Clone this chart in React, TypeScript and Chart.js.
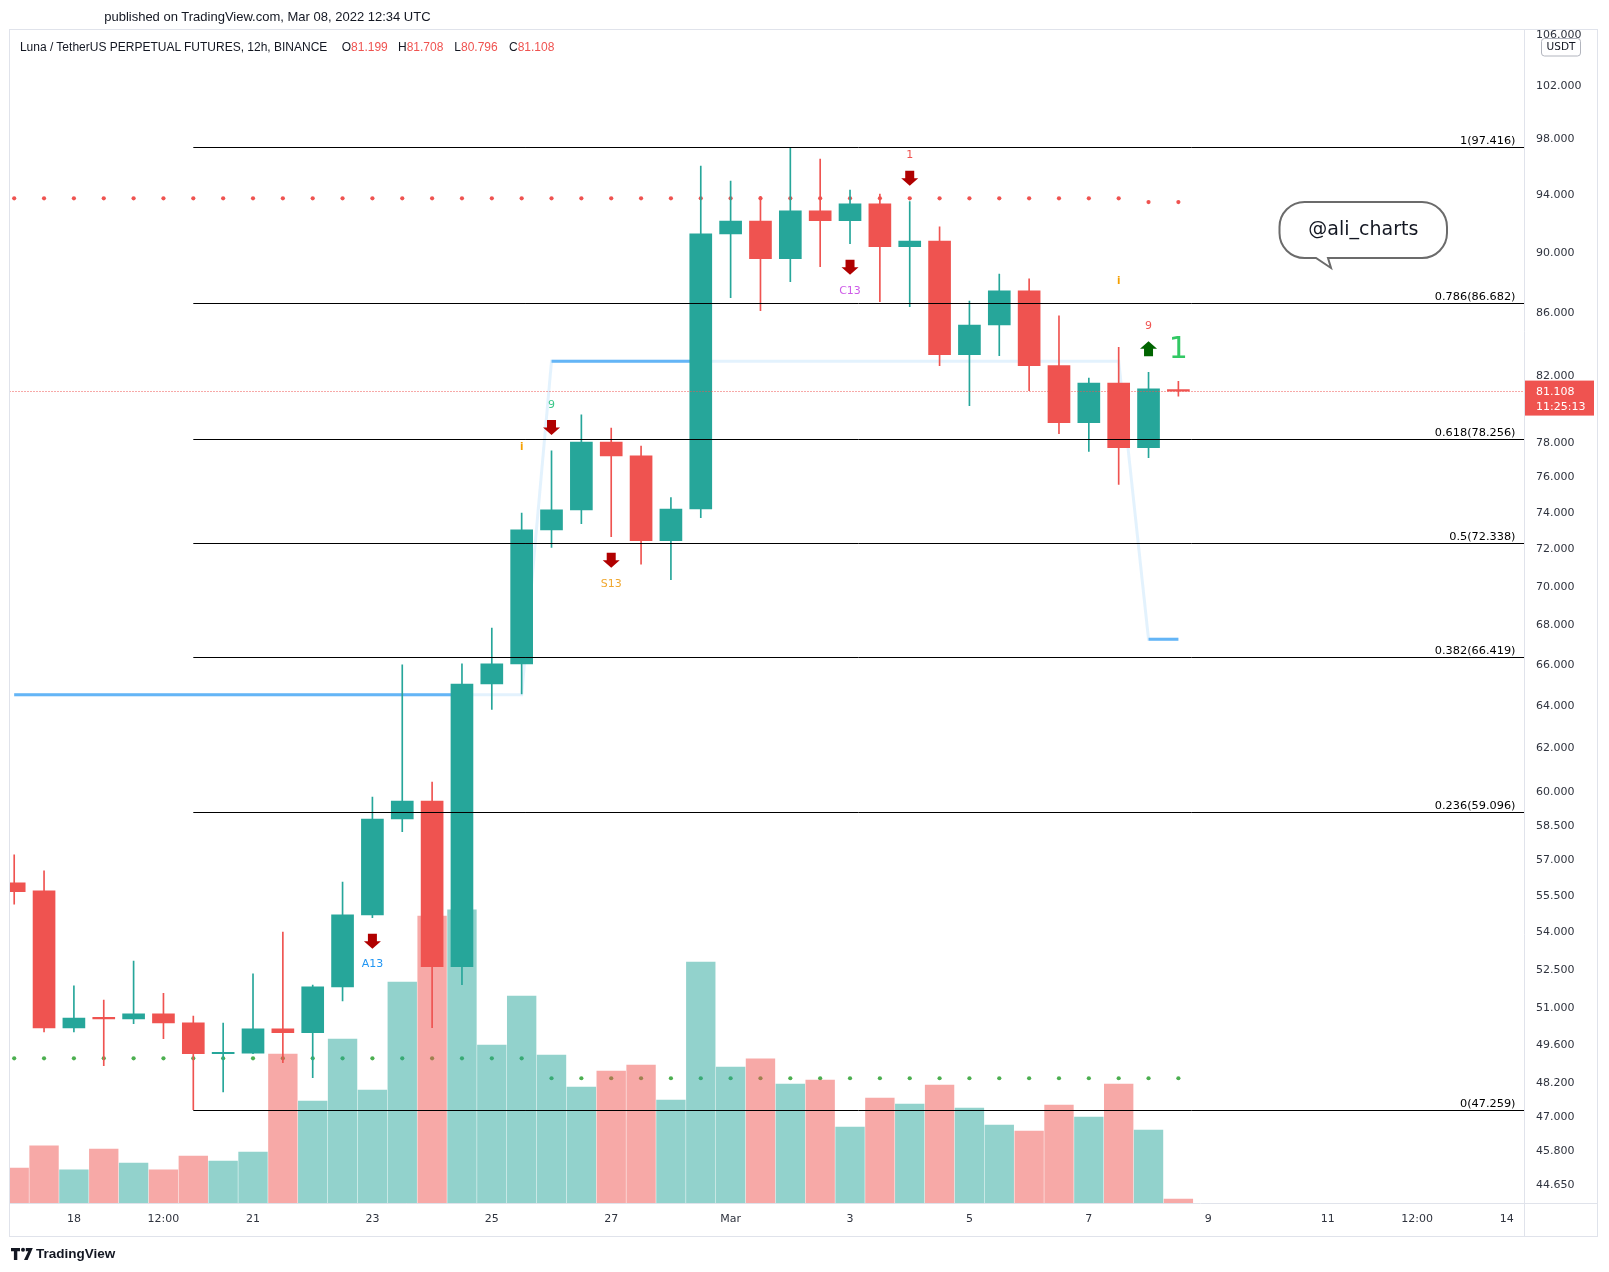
import React, { useEffect, useRef } from "react";
import { Chart, registerables } from "chart.js";

Chart.register(...registerables);

// ---------- data ----------
const categories = [
  "Feb 17 00:00", "Feb 17 12:00", "Feb 18 00:00", "Feb 18 12:00", "Feb 19 00:00", "Feb 19 12:00",
  "Feb 20 00:00", "Feb 20 12:00", "Feb 21 00:00", "Feb 21 12:00", "Feb 22 00:00", "Feb 22 12:00",
  "Feb 23 00:00", "Feb 23 12:00", "Feb 24 00:00", "Feb 24 12:00", "Feb 25 00:00", "Feb 25 12:00",
  "Feb 26 00:00", "Feb 26 12:00", "Feb 27 00:00", "Feb 27 12:00", "Feb 28 00:00", "Feb 28 12:00",
  "Mar 1 00:00", "Mar 1 12:00", "Mar 2 00:00", "Mar 2 12:00", "Mar 3 00:00", "Mar 3 12:00",
  "Mar 4 00:00", "Mar 4 12:00", "Mar 5 00:00", "Mar 5 12:00", "Mar 6 00:00", "Mar 6 12:00",
  "Mar 7 00:00", "Mar 7 12:00", "Mar 8 00:00", "Mar 8 12:00",
];

const openP = [
  56.05, 55.71, 50.26, 50.63, 50.6, 50.79, 50.45, 49.29, 49.31, 50.22,
  50.08, 51.83, 54.71, 58.8, 59.6, 52.62, 65.08, 66.07, 73.07, 74.18,
  78.06, 77.25, 72.48, 74.23, 91.28, 92.17, 89.6, 92.87, 92.19, 93.36,
  90.41, 90.79, 83.36, 85.24, 87.45, 82.67, 79.21, 81.6, 77.73, 81.199,
];
const highP = [
  57.24, 56.55, 51.87, 51.32, 52.85, 51.58, 50.71, 50.44, 52.34, 54.01,
  51.9, 56.08, 59.78, 66.02, 60.46, 66.08, 67.88, 74.0, 77.54, 79.68,
  78.89, 77.83, 74.87, 96.06, 94.98, 93.9, 97.416, 96.56, 94.34, 94.06,
  93.52, 91.76, 86.79, 88.57, 88.24, 85.82, 81.91, 83.82, 82.26, 81.708,
];
const lowP = [
  55.16, 50.11, 50.11, 48.85, 50.42, 49.85, 47.259, 47.9, 49.29, 48.96,
  48.41, 51.29, 54.6, 58.24, 50.27, 51.92, 63.85, 64.6, 72.11, 73.42,
  72.7, 71.21, 70.39, 73.75, 87.01, 86.16, 88.06, 89.06, 90.61, 86.75,
  86.42, 82.67, 80.23, 83.3, 81.14, 78.55, 77.51, 75.62, 77.15, 80.796,
];
const closeP = [
  55.68, 50.26, 50.63, 50.6, 50.79, 50.45, 49.29, 49.32, 50.22, 50.08,
  51.83, 54.71, 58.8, 59.6, 52.62, 65.08, 66.07, 73.07, 74.18, 78.06,
  77.25, 72.48, 74.23, 91.28, 92.17, 89.6, 92.87, 92.19, 93.36, 90.41,
  90.79, 83.36, 85.24, 87.45, 82.67, 79.21, 81.6, 77.73, 81.24, 81.108,
];
const volume = [
  3.44, 5.59, 3.25, 5.29, 3.93, 3.25, 4.61, 4.12, 5.0, 14.55,
  9.97, 16.01, 11.04, 21.57, 28.0, 28.59, 15.43, 20.2, 14.45, 11.33,
  12.89, 13.48, 10.07, 23.52, 13.28, 14.07, 11.63, 12.02, 7.44, 10.26,
  9.68, 11.53, 9.29, 7.63, 7.05, 9.58, 8.41, 11.63, 7.14, 0.42,
];

// red dotted resistance level and green dotted support level
const resistanceDots = [
  93.75, 93.75, 93.75, 93.75, 93.75, 93.75, 93.75, 93.75, 93.75, 93.75,
  93.75, 93.75, 93.75, 93.75, 93.75, 93.75, 93.75, 93.75, 93.75, 93.75,
  93.75, 93.75, 93.75, 93.75, 93.75, 93.75, 93.75, 93.75, 93.75, 93.75,
  93.75, 93.75, 93.75, 93.75, 93.75, 93.75, 93.75, 93.75, 93.49, 93.49,
];
const supportDots = [
  49.12, 49.12, 49.12, 49.12, 49.12, 49.12, 49.12, 49.12, 49.12, 49.12,
  49.12, 49.12, 49.12, 49.12, 49.12, 49.12, 49.12, 49.12, 48.39, 48.39,
  48.39, 48.39, 48.39, 48.39, 48.39, 48.39, 48.39, 48.39, 48.39, 48.39,
  48.39, 48.39, 48.39, 48.39, 48.39, 48.39, 48.39, 48.39, 48.39, 48.39,
];
// blue stop line and whether it is in its strong state
const stopLine = [
  64.56, 64.56, 64.56, 64.56, 64.56, 64.56, 64.56, 64.56, 64.56, 64.56,
  64.56, 64.56, 64.56, 64.56, 64.56, 64.56, 64.56, 64.56, 82.95, 82.95,
  82.95, 82.95, 82.95, 82.95, 82.95, 82.95, 82.95, 82.95, 82.95, 82.95,
  82.95, 82.95, 82.95, 82.95, 82.95, 82.95, 82.95, 82.95, 67.31, 67.31,
];
const stopActive = [
  1, 1, 1, 1, 1, 1, 1, 1, 1, 1, 1, 1, 1, 1, 1, 1, 0, 0, 1, 1,
  1, 1, 1, 1, 0, 0, 0, 0, 0, 0, 0, 0, 0, 0, 0, 0, 0, 0, 1, 1,
];

const fibLevels = ["1", "0.786", "0.618", "0.5", "0.382", "0.236", "0"];
const fibPrices = [97.416, 86.682, 78.256, 72.338, 66.419, 59.096, 47.259];
const fibStartIndex = 6;

const priceTicks = [
  44.65, 45.8, 47, 48.2, 49.6, 51, 52.5, 54, 55.5, 57, 58.5, 60, 62, 64, 66,
  68, 70, 72, 74, 76, 78, 82, 86, 90, 94, 98, 102, 106,
];
const timeTickIndex = [2, 5, 8, 12, 16, 20, 24, 28, 32, 36, 40, 44, 47, 50];
const timeTickLabels = ["18", "12:00", "21", "23", "25", "27", "Mar", "3", "5", "7", "9", "11", "12:00", "14"];

const signalIndex = [12, 18, 20, 28, 30, 38];
const signalSide = ["below", "above", "below", "below", "above", "above"];
const signalDir = ["down", "down", "down", "down", "down", "up"];
const signalText = ["A13", "9", "S13", "C13", "1", "9"];
const signalColor = ["#2196F3", "#3CC88A", "#F0A830", "#CE5BE8", "#EF5350", "#EF5350"];
const infoIndex = [17, 37];

// ---------- style constants ----------
const UP = "#26A69A";
const DOWN = "#EF5350";
const UP_VOL = "rgba(38,166,154,0.5)";
const DOWN_VOL = "rgba(239,83,80,0.5)";
const TXT = "#2f333e";
const FONT = "DejaVu Sans";

function drawArrow(ctx: CanvasRenderingContext2D, cx: number, top: number, dir: string, color: string) {
  ctx.fillStyle = color;
  ctx.beginPath();
  if (dir === "down") {
    ctx.moveTo(cx - 4.5, top);
    ctx.lineTo(cx + 4.5, top);
    ctx.lineTo(cx + 4.5, top + 7.5);
    ctx.lineTo(cx + 8.5, top + 7.5);
    ctx.lineTo(cx, top + 15);
    ctx.lineTo(cx - 8.5, top + 7.5);
    ctx.lineTo(cx - 4.5, top + 7.5);
  } else {
    ctx.moveTo(cx, top);
    ctx.lineTo(cx + 8.5, top + 7.5);
    ctx.lineTo(cx + 4.5, top + 7.5);
    ctx.lineTo(cx + 4.5, top + 15);
    ctx.lineTo(cx - 4.5, top + 15);
    ctx.lineTo(cx - 4.5, top + 7.5);
    ctx.lineTo(cx - 8.5, top + 7.5);
  }
  ctx.closePath();
  ctx.fill();
}

const annotPlugin = {
  id: "annot",
  afterDatasetsDraw(chart: any) {
    const { ctx, chartArea: ca } = chart;
    const xs = chart.scales.x;
    const ys = chart.scales.y;
    const last = closeP.length - 1;
    ctx.save();

    // last price dotted line
    const yp = Math.round(ys.getPixelForValue(closeP[last])) + 0.5;
    ctx.strokeStyle = DOWN;
    ctx.lineWidth = 1;
    ctx.setLineDash([1, 2]);
    ctx.beginPath();
    ctx.moveTo(ca.left, yp);
    ctx.lineTo(ca.right, yp);
    ctx.stroke();
    ctx.setLineDash([]);

    // fibonacci levels
    const x0 = xs.getPixelForValue(fibStartIndex);
    ctx.font = `11.3px "${FONT}"`;
    ctx.textAlign = "right";
    ctx.textBaseline = "alphabetic";
    fibPrices.forEach((p, j) => {
      const y = Math.round(ys.getPixelForValue(p)) + 0.5;
      ctx.strokeStyle = "#000";
      ctx.beginPath();
      ctx.moveTo(x0, y);
      ctx.lineTo(ca.right, y);
      ctx.stroke();
      ctx.fillStyle = "#000";
      ctx.fillText(`${fibLevels[j]}(${p.toFixed(3)})`, ca.right - 8.5, y - 4);
    });

    // signals
    ctx.textAlign = "center";
    ctx.textBaseline = "middle";
    signalIndex.forEach((i, j) => {
      const cx = xs.getPixelForValue(i);
      const arrowColor = signalDir[j] === "up" ? "#006400" : "#B00000";
      ctx.font = `11px "${FONT}"`;
      if (signalSide[j] === "above") {
        const yh = ys.getPixelForValue(highP[i]);
        drawArrow(ctx, cx, yh - 31, signalDir[j], arrowColor);
        ctx.fillStyle = signalColor[j];
        ctx.fillText(signalText[j], cx, yh - 46);
      } else {
        const yl = ys.getPixelForValue(lowP[i]);
        drawArrow(ctx, cx, yl + 16, signalDir[j], arrowColor);
        ctx.fillStyle = signalColor[j];
        ctx.fillText(signalText[j], cx, yl + 47);
      }
    });

    // info markers
    ctx.font = `bold 10px "${FONT}"`;
    ctx.fillStyle = "#F5A000";
    infoIndex.forEach((i) => {
      const cx = xs.getPixelForValue(i);
      ctx.fillText("i", cx, ys.getPixelForValue(highP[i]) - 66);
    });

    // big green "1"
    ctx.font = `30px "${FONT}"`;
    ctx.fillStyle = "#32C864";
    ctx.fillText("1", xs.getPixelForValue(39), ys.getPixelForValue(highP[38]) - 22);

    // speech bubble
    const L = 1279.5, R = 1447, T = 202, B = 258, r = 25;
    ctx.beginPath();
    ctx.moveTo(1328, B);
    ctx.lineTo(R - r, B);
    ctx.arcTo(R, B, R, B - r, r);
    ctx.lineTo(R, T + r);
    ctx.arcTo(R, T, R - r, T, r);
    ctx.lineTo(L + r, T);
    ctx.arcTo(L, T, L, T + r, r);
    ctx.lineTo(L, B - r);
    ctx.arcTo(L, B, L + r, B, r);
    ctx.lineTo(1316, B);
    ctx.lineTo(1331, 268);
    ctx.closePath();
    ctx.fillStyle = "#fff";
    ctx.fill();
    ctx.strokeStyle = "#6b6b6b";
    ctx.lineWidth = 2;
    ctx.stroke();
    ctx.fillStyle = "#131722";
    ctx.font = `19px "${FONT}"`;
    ctx.fillText("@ali_charts", 1363.3, 230);

    ctx.restore();
  },
  afterDraw(chart: any) {
    const { ctx } = chart;
    const ys = chart.scales.y;
    const last = closeP.length - 1;
    ctx.save();
    // frame
    ctx.strokeStyle = "#E0E3EB";
    ctx.lineWidth = 1;
    ctx.strokeRect(9.5, 29.5, 1588, 1207);
    ctx.beginPath();
    ctx.moveTo(1524.5, 29.5);
    ctx.lineTo(1524.5, 1236.5);
    ctx.moveTo(9.5, 1203.5);
    ctx.lineTo(1597.5, 1203.5);
    ctx.stroke();

    // last price label
    const yp = ys.getPixelForValue(closeP[last]);
    ctx.fillStyle = DOWN;
    ctx.fillRect(1525, yp - 10.5, 69, 35);
    ctx.fillStyle = "#fff";
    ctx.font = `11px "${FONT}"`;
    ctx.textAlign = "left";
    ctx.textBaseline = "middle";
    ctx.fillText(closeP[last].toFixed(3), 1536, yp + 1);
    ctx.fillText("11:25:13", 1536, yp + 16.3);

    // currency badge
    ctx.beginPath();
    (ctx as any).roundRect(1541.5, 38.5, 39, 17.5, 3);
    ctx.fillStyle = "#fff";
    ctx.fill();
    ctx.strokeStyle = "#B2B5BE";
    ctx.stroke();
    ctx.fillStyle = "#131722";
    ctx.font = `10.5px "${FONT}"`;
    ctx.textAlign = "center";
    ctx.fillText("USDT", 1561, 47.5);
    ctx.restore();
  },
};

export default function App() {
  const ref = useRef<HTMLCanvasElement>(null);

  useEffect(() => {
    const canvas = ref.current;
    if (!canvas) return;
    const idx = categories.map((_, i) => i);
    const isUp = idx.map((i) => closeP[i] >= openP[i]);

    const chart = new Chart(canvas, {
      type: "bar",
      data: {
        datasets: [
          {
            type: "line",
            label: "Resistance",
            data: idx.map((i) => ({ x: i, y: resistanceDots[i] })),
            showLine: false,
            pointRadius: 2.1,
            pointBorderWidth: 0,
            pointBackgroundColor: "#EF5350",
            yAxisID: "y",
            order: 9,
          } as any,
          {
            type: "line",
            label: "Support",
            data: idx.map((i) => ({ x: i, y: supportDots[i] })),
            showLine: false,
            pointRadius: 2.1,
            pointBorderWidth: 0,
            pointBackgroundColor: "#4CAF50",
            yAxisID: "y",
            order: 9,
          } as any,
          {
            type: "bar",
            label: "Volume",
            data: idx.map((i) => ({ x: i, y: volume[i] })),
            backgroundColor: idx.map((i) => (isUp[i] ? UP_VOL : DOWN_VOL)),
            barThickness: 28.7,
            grouped: false,
            borderWidth: 0,
            yAxisID: "yv",
            order: 8,
          } as any,
          {
            type: "line",
            label: "Stop (faint)",
            data: idx.map((i) => ({ x: i, y: stopLine[i] })),
            borderColor: "rgba(100,181,246,0.18)",
            borderWidth: 3,
            pointRadius: 0,
            tension: 0,
            yAxisID: "y",
            order: 7,
          } as any,
          {
            type: "line",
            label: "Stop",
            data: idx.map((i) => ({ x: i, y: stopActive[i] ? stopLine[i] : null })),
            borderColor: "#64B5F6",
            borderWidth: 3,
            pointRadius: 0,
            tension: 0,
            spanGaps: false,
            yAxisID: "y",
            order: 6,
          } as any,
          {
            type: "bar",
            label: "Wick",
            data: idx.map((i) => ({ x: i, y: [lowP[i], highP[i]] })),
            backgroundColor: idx.map((i) => (isUp[i] ? UP : DOWN)),
            barThickness: 1,
            grouped: false,
            borderWidth: 0,
            yAxisID: "y",
            order: 5,
          } as any,
          {
            type: "bar",
            label: "Body",
            data: idx.map((i) => ({ x: i, y: [openP[i], closeP[i]] })),
            backgroundColor: idx.map((i) => (isUp[i] ? UP : DOWN)),
            barThickness: 22,
            grouped: false,
            borderWidth: 0,
            minBarLength: 1.5,
            yAxisID: "y",
            order: 4,
          } as any,
        ],
      },
      options: {
        responsive: false,
        animation: false,
        devicePixelRatio: 1,
        events: [],
        layout: { padding: { left: 9.5, top: 28.7, right: 12, bottom: 35.5 } },
        plugins: { legend: { display: false }, tooltip: { enabled: false } },
        scales: {
          x: {
            type: "linear",
            min: -0.1574,
            max: 50.578,
            bounds: "data",
            offset: false,
            grid: { display: false, drawTicks: false },
            border: { display: false },
            afterBuildTicks: (s: any) => {
              s.ticks = timeTickIndex.map((v) => ({ value: v }));
            },
            afterFit: (s: any) => {
              s.height = 33.2;
            },
            ticks: {
              autoSkip: false,
              maxRotation: 0,
              minRotation: 0,
              padding: 9.5,
              color: TXT,
              font: { family: FONT, size: 11 },
              callback: (v: any) => {
                const k = timeTickIndex.indexOf(Number(v));
                return k >= 0 ? timeTickLabels[k] : "";
              },
            },
          },
          y: {
            type: "logarithmic",
            position: "right",
            min: 44.05,
            max: 106.5,
            bounds: "data",
            grid: { display: false, drawTicks: false },
            border: { display: false },
            afterBuildTicks: (s: any) => {
              s.ticks = priceTicks.map((v) => ({ value: v }));
            },
            afterFit: (s: any) => {
              s.width = 73;
            },
            ticks: {
              autoSkip: false,
              padding: 12,
              color: TXT,
              font: { family: FONT, size: 11 },
              callback: (v: any) => Number(v).toFixed(3),
            },
          },
          yv: {
            type: "linear",
            display: false,
            min: 0,
            max: 114.47,
          },
        },
      } as any,
      plugins: [annotPlugin],
    });
    return () => chart.destroy();
  }, []);

  const hdr: React.CSSProperties = {
    position: "absolute",
    fontFamily: '"Liberation Sans", Arial, sans-serif',
    color: "#131722",
    whiteSpace: "pre",
  };
  const red: React.CSSProperties = { color: "#EF5350" };
  const titleStyle: React.CSSProperties = { ...hdr, top: 39.5, fontSize: 12, lineHeight: "14px" };

  return (
    <div
      style={{
        position: "fixed",
        left: 0,
        top: 0,
        width: 1609,
        height: 1272,
        background: "#fff",
        overflow: "hidden",
      }}
    >
      <canvas
        ref={ref}
        width={1609}
        height={1272}
        style={{ position: "absolute", left: 0, top: 0, width: 1609, height: 1272 }}
      />
      <div style={{ ...hdr, left: 104.2, top: 9.2, fontSize: 13, lineHeight: "15px" }}>
        published on TradingView.com, Mar 08, 2022 12:34 UTC
      </div>
      <div style={{ ...titleStyle, left: 19.9 }}>
        Luna / TetherUS PERPETUAL FUTURES, 12h, BINANCE
      </div>
      <div style={{ ...titleStyle, left: 341.7 }}>
        O<span style={red}>{openP[openP.length - 1].toFixed(3)}</span>
      </div>
      <div style={{ ...titleStyle, left: 398 }}>
        H<span style={red}>{highP[highP.length - 1].toFixed(3)}</span>
      </div>
      <div style={{ ...titleStyle, left: 454.3 }}>
        L<span style={red}>{lowP[lowP.length - 1].toFixed(3)}</span>
      </div>
      <div style={{ ...titleStyle, left: 509 }}>
        C<span style={red}>{closeP[closeP.length - 1].toFixed(3)}</span>
      </div>
      <svg
        width="22"
        height="14"
        viewBox="0 0 22 14"
        style={{ position: "absolute", left: 11, top: 1247 }}
      >
        <path d="M0 1h9v3.2H6.3V13H2.9V4.2H0z" fill="#131722" />
        <circle cx="12" cy="2.8" r="2" fill="#131722" />
        <path d="M14.8 1h7l-5.2 12h-3.6l4.2-8.8h-2.4z" fill="#131722" />
      </svg>
      <div style={{ ...hdr, left: 36, top: 1246, fontSize: 13.5, fontWeight: 600, lineHeight: "16px" }}>
        TradingView
      </div>
    </div>
  );
}
